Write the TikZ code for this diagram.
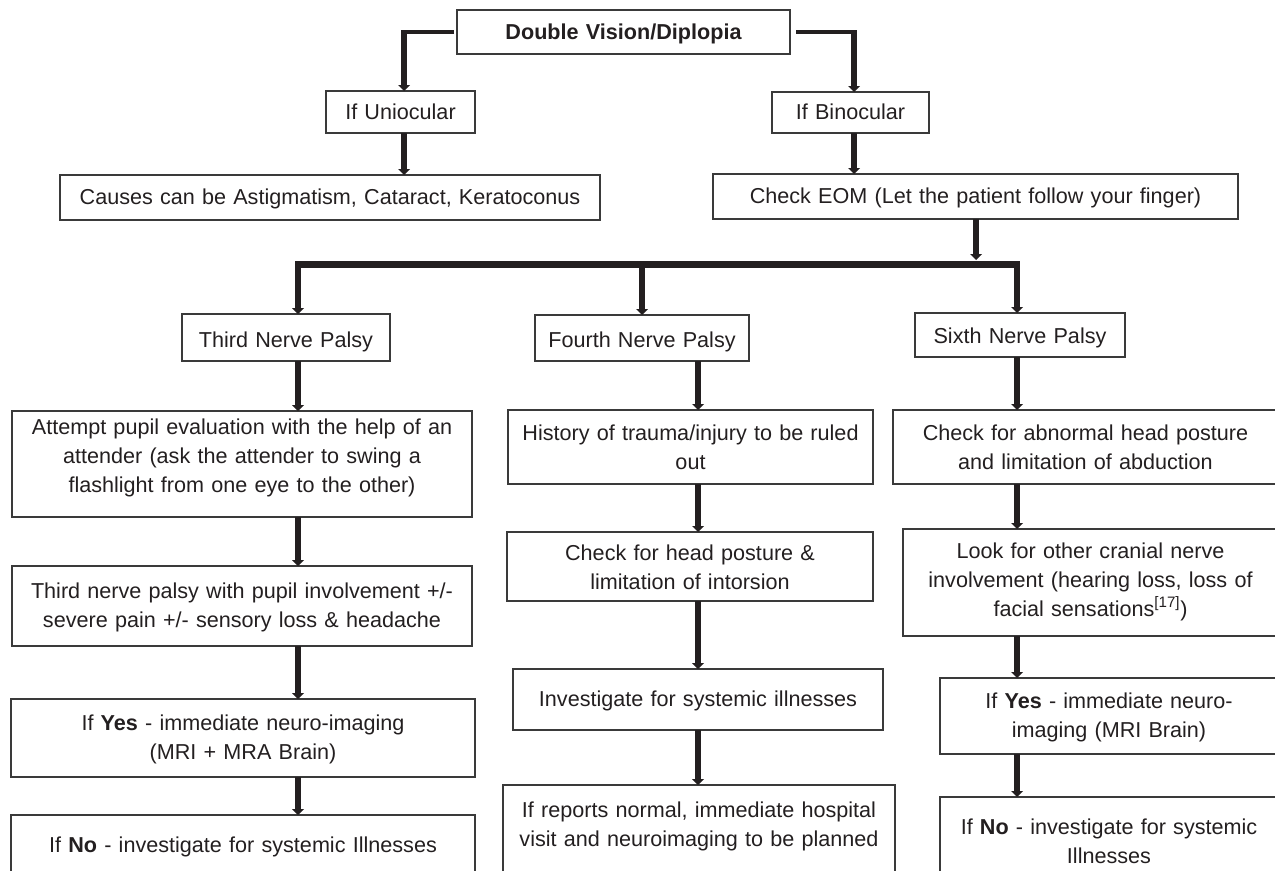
\documentclass[tikz,border=0pt]{standalone}
\usepackage{fontspec}
\setmainfont{Liberation Sans}
\usetikzlibrary{arrows.meta}
\definecolor{ink}{HTML}{231F20}
\definecolor{frame}{HTML}{3A3A3A}
% \flowbox[style]{name}{left}{top}{right}{bottom}{first baseline}{text}
% all positions in px; the box is exactly left..right x top..bottom
\newcommand\flowbox[8][]{%
  \pgfmathsetmacro\fbw{(#5-#3)*0.75-4}%
  \pgfmathsetmacro\fbh{(#7-#4)*0.75}%
  \pgfmathsetmacro\fbd{(#6-#7)*0.75}%
  \node[box,#1,text width=\fbw pt,text height=\fbh pt,text depth=\fbd pt] (#2) at (#3,#4) {#8};%
}
\begin{document}
\begin{tikzpicture}[x=0.75pt,y=-0.75pt,
  box/.style={draw=frame,line width=0.9pt,anchor=north west,inner xsep=2pt,inner ysep=0pt,
    outer sep=0pt,align=center,text=ink,font=\fontsize{16.2pt}{21.75pt}\selectfont},
  boldbox/.style={font=\fontsize{16.2pt}{21.75pt}\selectfont\bfseries},
  stem/.style={draw=ink,line width=4.5pt,
    -{Triangle[width=9pt,length=4.5pt,line width=0pt]}},
  hline/.style={draw=ink,line width=3pt},
  barline/.style={draw=ink,line width=5.25pt}]
\useasboundingbox (0,0) rectangle (1275,871);
\clip (0,0) rectangle (1275,871);

% boxes
\flowbox[boldbox]{top}{457}{10}{790}{54}{39}{Double Vision/Diplopia}
\flowbox{uni}{326}{91}{475}{133}{119}{If Uniocular}
\flowbox{bin}{772}{92}{929}{133}{119}{If Binocular}
\flowbox{causes}{60}{175}{600}{220}{204}{Causes can be Astigmatism, Cataract, Keratoconus}
\flowbox{eom}{713}{174}{1238}{219}{203}{Check EOM (Let the patient follow your finger)}

\flowbox{third}{182}{314}{390}{361}{347}{Third Nerve Palsy}
\flowbox{fourth}{535}{315}{749}{361}{347}{Fourth Nerve Palsy}
\flowbox{sixth}{915}{313}{1125}{357}{343}{Sixth Nerve Palsy}

\flowbox{attempt}{12}{411}{472}{517}{434}{Attempt pupil evaluation with the help of an\\attender (ask the attender to swing a\\flashlight from one eye to the other)}
\flowbox{pupil}{12}{566}{472}{646}{598}{Third nerve palsy with pupil involvement +/-\\severe pain +/- sensory loss \& headache}
\flowbox{yesA}{11}{699}{475}{777}{730}{If \textbf{Yes} - immediate neuro-imaging\\(MRI + MRA Brain)}
\flowbox{noA}{11}{815}{475}{905}{852}{If \textbf{No} - investigate for systemic Illnesses}

\flowbox{history}{508}{410}{873}{484}{440}{History of trauma/injury to be ruled\\out}
\flowbox{headpost}{507}{532}{873}{601}{560}{Check for head posture \&\\limitation of intorsion}
\flowbox{invest}{513}{669}{883}{730}{706}{Investigate for systemic illnesses}
\flowbox{reports}{503}{785}{895}{905}{817}{If reports normal, immediate hospital\\visit and neuroimaging to be planned}

\flowbox{abnormal}{893}{410}{1278}{484}{440}{Check for abnormal head posture\\and limitation of abduction}
\flowbox{cranial}{903}{529}{1278}{636}{558}{Look for other cranial nerve\\involvement (hearing loss, loss of\\facial sensations\textsuperscript{[17]})}
\flowbox{yesC}{940}{678}{1278}{754}{708}{If \textbf{Yes} - immediate neuro-\\imaging (MRI Brain)}
\flowbox{noC}{940}{797}{1278}{905}{834}{If \textbf{No} - investigate for systemic\\Illnesses}

% stem positions
\coordinate (sU) at (404,0);
\coordinate (sB) at (854,0);
\coordinate (sE) at (976,0);
\coordinate (eomEnd) at (976,260);
\coordinate (barL) at (298,264);
\coordinate (barR) at (1017,264);
\coordinate (sF) at (642,264);
\coordinate (c1) at (298,0);
\coordinate (c2) at (698,0);
\coordinate (c3) at (1017,0);

% top split
\draw[hline] ([xshift=-2.25pt]top.west) -- (top.west -| sU);
\draw[stem] ([yshift=1.5pt]top.west -| sU) -- (uni.north -| sU);
\draw[hline] ([xshift=4.5pt]top.east) -- (top.east -| sB);
\draw[stem] ([yshift=1.5pt]top.east -| sB) -- (bin.north -| sB);
\draw[stem] (uni.south -| sU) -- (causes.north -| sU);
\draw[stem] (bin.south -| sB) -- (eom.north -| sB);

% branching bar
\draw[stem] (eom.south -| sE) -- (eomEnd);
\draw[barline] ([xshift=-2.25pt]barL) -- ([xshift=2.25pt]barR);
\draw[stem] ([yshift=2pt]barL) -- (third.north -| barL);
\draw[stem] ([yshift=2pt]sF) -- (fourth.north -| sF);
\draw[stem] ([yshift=2pt]barR) -- (sixth.north -| barR);

% third nerve column
\draw[stem] (third.south -| c1) -- (attempt.north -| c1);
\draw[stem] (attempt.south -| c1) -- (pupil.north -| c1);
\draw[stem] (pupil.south -| c1) -- (yesA.north -| c1);
\draw[stem] (yesA.south -| c1) -- (noA.north -| c1);

% fourth nerve column
\draw[stem] (fourth.south -| c2) -- (history.north -| c2);
\draw[stem] (history.south -| c2) -- (headpost.north -| c2);
\draw[stem] (headpost.south -| c2) -- (invest.north -| c2);
\draw[stem] (invest.south -| c2) -- (reports.north -| c2);

% sixth nerve column
\draw[stem] (sixth.south -| c3) -- (abnormal.north -| c3);
\draw[stem] (abnormal.south -| c3) -- (cranial.north -| c3);
\draw[stem] (cranial.south -| c3) -- (yesC.north -| c3);
\draw[stem] (yesC.south -| c3) -- (noC.north -| c3);
\end{tikzpicture}
\end{document}
